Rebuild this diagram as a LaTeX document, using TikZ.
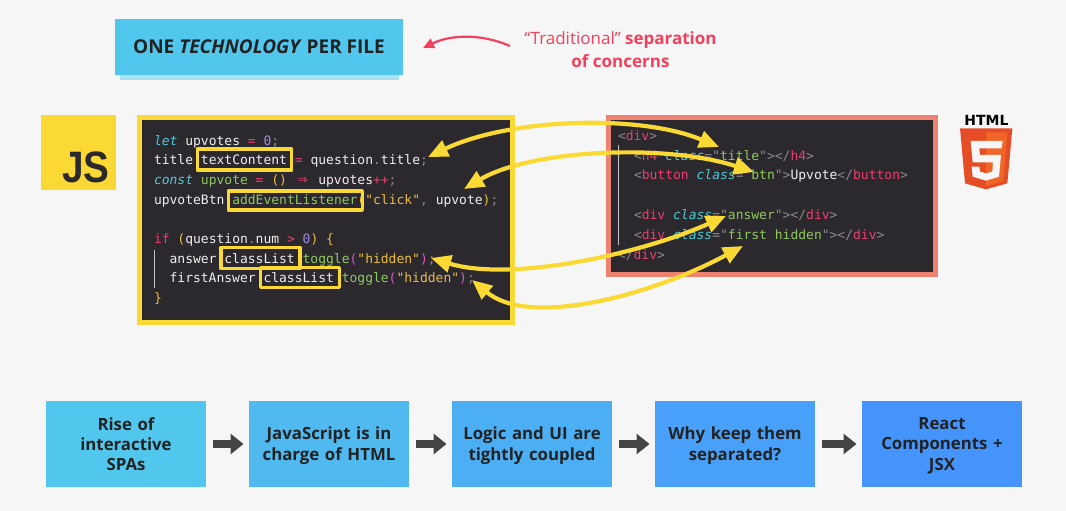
\documentclass[tikz,border=0pt]{standalone}
\usepackage{fontspec}
\setmainfont{Open Sans}
\setmonofont{DejaVu Sans Mono}
\newfontfamily\logofont{DejaVu Sans}
\newfontfamily\jsfont{Liberation Sans}
\usetikzlibrary{arrows.meta}
\definecolor{pagebg}{HTML}{F6F6F6}
\definecolor{codebg}{HTML}{2B282E}
\definecolor{jsyellow}{HTML}{FAD934}
\definecolor{htmlsalmon}{HTML}{EE8270}
\definecolor{warnred}{HTML}{F2415F}
\definecolor{inktext}{HTML}{222222}
\definecolor{cWhite}{HTML}{F0EEEE}
\definecolor{cCyan}{HTML}{4FC9D6}
\definecolor{cPink}{HTML}{E8416F}
\definecolor{cPurple}{HTML}{9D8BDB}
\definecolor{cGreen}{HTML}{8FC95F}
\definecolor{cGold}{HTML}{EDBE3B}
\definecolor{cMagenta}{HTML}{D858C8}
\definecolor{cGray}{HTML}{8C8A8E}
\definecolor{flowA}{HTML}{52C7ED}
\definecolor{flowB}{HTML}{4FB9F0}
\definecolor{flowC}{HTML}{4CAEF3}
\definecolor{flowD}{HTML}{48A0F8}
\definecolor{flowE}{HTML}{4494FC}
\definecolor{titleshade}{HTML}{A9E0F5}
\definecolor{arrowink}{HTML}{444444}
\definecolor{htmlorange}{HTML}{E44D26}
\definecolor{htmlorangeb}{HTML}{F16529}
\newcommand\kw[1]{\textcolor{cCyan}{\itshape #1}}
\newcommand\op[1]{\textcolor{cPink}{#1}}
\newcommand\num[1]{\textcolor{cPurple}{#1}}
\newcommand\fn[1]{\textcolor{cGreen}{#1}}
\newcommand\str[1]{\textcolor{cGold}{#1}}
\newcommand\mg[1]{\textcolor{cMagenta}{#1}}
\newcommand\gr[1]{\textcolor{cGray}{#1}}
\newcommand\fatarrow{\textcolor{cPink}{\makebox[15.6pt]{\fontsize{16}{16}\selectfont⇒}}}
\newcommand\flowstrut{\rule[-4pt]{0pt}{20pt}}
\tikzset{
  codeline/.style={anchor=base west,inner sep=0pt,outer sep=0pt,text=cWhite,font=\fontsize{13}{15}\selectfont\ttfamily},
  markbox/.style={draw=jsyellow,line width=3.6pt,inner sep=0pt,outer sep=0pt},
  flowbox/.style={inner sep=0pt,outer sep=0pt,minimum width=160pt,minimum height=86pt,text width=150pt,align=center,text=inktext,font=\fontsize{16.8}{20}\selectfont\bfseries,execute at begin node=\flowstrut,execute at end node=\flowstrut},
  flowarrow/.style={draw=arrowink,line width=8pt,-{Triangle[length=13pt,width=20pt]},shorten <=7pt,shorten >=5.5pt},
  linkarrow/.style={draw=jsyellow,line width=4.2pt,{Triangle[length=20pt,width=17pt]}-{Triangle[length=20pt,width=17pt]}},
}
\begin{document}
\begin{tikzpicture}[x=1pt,y=-1pt,line join=round]
	\useasboundingbox[fill=pagebg] (0,0) rectangle (1066,511);
	% top title
	\node[fill=titleshade,minimum width=279pt,minimum height=20pt,inner sep=0pt] (titlebar) at (259.5,70) {};
	\node[fill=flowA,minimum width=288pt,minimum height=56pt,inner sep=0pt,text=inktext,font=\fontsize{19}{22}\selectfont\bfseries] (title) at (259,47) {ONE \textit{TECHNOLOGY} PER FILE};
	\node[align=center,text=warnred,inner sep=0pt,font=\fontsize{17}{23}\selectfont] (tradition) at (620.5,49.5) {“Traditional” \textbf{separation}\\\textbf{of concerns}};
	\coordinate (sepfrom) at (510,46);
	\coordinate (septo) at (423,48);
	\draw[draw=warnred,line width=2.2pt,-{Triangle[length=11pt,width=10pt]}] (sepfrom) .. controls (480,33) and (450,35) .. (septo);
	% logos
	\node[fill=jsyellow,minimum size=75pt,inner sep=0pt] (jslogo) at (78.5,152.5) {};
	\node[anchor=base east,inner sep=0pt,text=codebg,font=\fontsize{44}{45}\selectfont\jsfont\bfseries] (jstext) at (110,182) {\scalebox{.88}[1]{JS}};
	\node[inner sep=0pt,anchor=base,text=black,font=\fontsize{14}{14}\selectfont\logofont\bfseries] (htmltext) at (986.5,125) {HTML};
	\begin{scope}[shift={(950,105)},x=1/3*1pt,y=-1/3*1pt]
		\fill[htmlorange] (30,70)--(187,70)--(172,235)--(108,253)--(45,235)--cycle;
		\fill[htmlorangeb] (108,82)--(172,82)--(160,228)--(108,243)--cycle;
		\fill[pagebg] (62,108)--(158,108)--(155,130)--(88,130)--(90,150)--(153,150)--(147,215)--(108,227)--(68,215)--(65,185)--(88,185)--(90,200)--(108,205)--(127,200)--(129,172)--(68,172)--cycle;
	\end{scope}
	% js code
	\draw[fill=codebg,draw=jsyellow,line width=5pt,line join=miter] (139.5,117.5) rectangle (512,322.5);
	\draw[cGray!50,line width=.5pt] (154,250)--(154,288);
	\node[codeline] (js1) at (154,145) {\kw{let} upvotes \op{=} \num{0}\gr{;}};
	\node[codeline] (js2) at (154,164.7) {title textContent \op{=} question\gr{.}title\gr{;}};
	\node[codeline] (js3) at (154,184.4) {\kw{const} \fn{upvote} \op{=} \str{()} \fatarrow{} upvotes\op{++}\gr{;}};
	\node[codeline] (js4) at (154,204.1) {upvoteBtn \fn{addEventListener}\str{("click"}\gr{,} upvote\str{)}\gr{;}};
	\node[codeline] (js6) at (154,243.5) {\op{if} \str{(}question\gr{.}num \op{>} \num{0}\str{)} \str{\{}};
	\node[codeline] (js7) at (169.6,263.2) {answer classList \fn{toggle}\mg{(}\str{"hidden"}\mg{)}\gr{;}};
	\node[codeline] (js8) at (169.6,282.9) {firstAnswer classList \fn{toggle}\mg{(}\str{"hidden"}\mg{)}\gr{;}};
	\node[codeline] (js9) at (154,302.6) {\str{\}}};
	\node[markbox,minimum width=94pt,minimum height=21pt] (markcontent) at (244.5,159.7) {};
	\node[markbox,minimum width=134pt,minimum height=19pt] (marklistener) at (295.3,200.5) {};
	\node[markbox,minimum width=79pt,minimum height=21pt] (markfirst) at (260.3,258) {};
	\node[markbox,minimum width=79pt,minimum height=20pt] (marksecond) at (299.8,277.5) {};
	% html code
	\fill[codebg] (605.6,115.5) rectangle (612,276.5);
	\draw[fill=codebg,draw=htmlsalmon,line width=5pt,line join=miter] (608.5,117.5) rectangle (935.5,274.5);
	\draw[cGray!50,line width=.5pt] (618,145)--(618,245);
	\node[codeline] (html1) at (618,140) {\gr{<}\op{div}\gr{>}};
	\node[codeline] (html2) at (634,160) {\gr{<}\op{h4} \kw{class}\gr{="}\fn{title}\gr{"></}\op{h4}\gr{>}};
	\node[codeline] (html3) at (634,179.7) {\gr{<}\op{button} \kw{class}\gr{="}\fn{btn}\gr{">}Upvote\gr{</}\op{button}\gr{>}};
	\node[codeline] (html5) at (634,219.3) {\gr{<}\op{div} \kw{class}\gr{="}\fn{answer}\gr{"></}\op{div}\gr{>}};
	\node[codeline] (html6) at (634,239) {\gr{<}\op{div} \kw{class}\gr{="}\fn{first hidden}\gr{"></}\op{div}\gr{>}};
	\node[codeline] (html7) at (618,259) {\gr{</}\op{div}\gr{>}};
	% links between js and html
	\coordinate (jstitle) at (428,157);
	\coordinate (jsbtn) at (464,189);
	\coordinate (jsanswer) at (431,258);
	\coordinate (jsfirst) at (472,280);
	\coordinate (htmltitle) at (719,147);
	\coordinate (htmlbtn) at (754,172);
	\coordinate (htmlanswer) at (726,216);
	\coordinate (htmlfirst) at (743,246);
	\draw[linkarrow] (jstitle) .. controls (510,118) and (640,114) .. (htmltitle);
	\draw[linkarrow] (jsbtn) .. controls (530,150) and (664,143) .. (htmlbtn);
	\draw[linkarrow] (jsanswer) .. controls (510,282) and (638,255) .. (htmlanswer);
	\draw[linkarrow] (jsfirst) .. controls (530,328) and (652,295) .. (htmlfirst);
	% flow along the bottom
	\node[flowbox,fill=flowA] (rise) at (126,444) {Rise of\\interactive\\SPAs};
	\node[flowbox,fill=flowB] (incharge) at (329,444) {JavaScript is in\\charge of HTML};
	\node[flowbox,fill=flowC] (coupled) at (532,444) {Logic and UI are\\tightly coupled};
	\node[flowbox,fill=flowD] (separated) at (735,444) {Why keep them\\separated?};
	\node[flowbox,fill=flowE] (react) at (942,444) {React\\Components +\\JSX};
	\foreach \a/\b in {rise/incharge,incharge/coupled,coupled/separated,separated/react}
		\draw[flowarrow] (\a) -- (\b);
\end{tikzpicture}
\end{document}
